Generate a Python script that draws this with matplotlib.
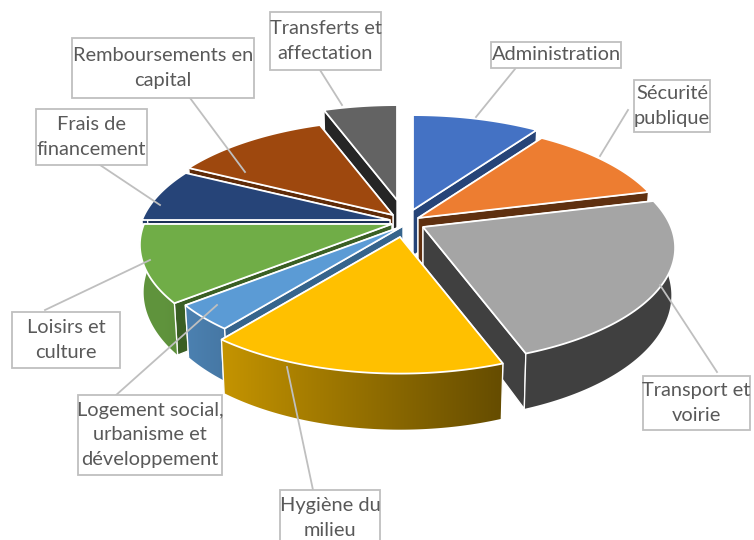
import numpy as np
import matplotlib
matplotlib.use("Agg")
import matplotlib.pyplot as plt
from matplotlib.colors import to_rgb
from matplotlib.patches import Polygon, Rectangle

plt.rcParams["font.family"] = ["Lato", "DejaVu Sans"]

# parts of the budget, clockwise from 12 o'clock (percent)
categories = ["Administration", "Sécurité publique", "Transport et voirie", "Hygiène du milieu",
              "Logement social, urbanisme et développement", "Loisirs et culture",
              "Frais de financement", "Remboursements en capital", "Transferts et affectation"]
values = [9.7, 11.4, 23.3, 16.2, 3.6, 10.8, 7.5, 11.9, 5.6]
colors = ["#4472C4", "#ED7D31", "#A5A5A5", "#FFC000", "#5B9BD5", "#70AD47", "#264478", "#9E480E", "#636363"]
cut_colors = ["#264478", "#5F3010", "#404040", "#805F00", "#36648C", "#3A5F24", "#1A2F55", "#5F2B08", "#252525"]

labels = ["Administration", "Sécurité\npublique", "Transport et\nvoirie", "Hygiène du\nmilieu",
          "Logement social,\nurbanisme et\ndéveloppement", "Loisirs et\nculture",
          "Frais de\nfinancement", "Remboursements en\ncapital", "Transferts et\naffectation"]
# x0, y0, x1, y1 of each label box, in pixels
boxes = [(491, 42, 621, 68), (634, 80, 710, 132), (643, 376, 750, 430), (280, 490, 380, 546),
         (78, 395, 222, 475), (12, 312, 120, 368), (36, 109, 147, 165), (72, 38, 254, 98), (270, 12, 381, 70)]
leaders = [((515, 69), (476, 117)), ((628, 110), (600, 156)), ((717, 372), (660, 285)), ((313, 490), (287, 367)),
           ((115, 396), (217, 305)), ((45, 310), (150, 260)), ((100, 165), (160, 205)), ((190, 98), (245, 172)),
           ((320, 70), (342, 105))]

# where each exploded slice has its point, in pixels
apex_x = [413, 418, 423, 400, 403, 392, 390, 393, 397]
apex_y = [210, 218, 227, 237, 226, 224, 220, 215, 200]

A, B = 248, 112
P = 0.18
DEPTH = 46
ORDER = [8, 0, 7, 1, 6, 5, 2, 4, 3]


def project(t, r, i, z):
    # r=1 on the rim, z=1 on the underside
    x, y = r * np.sin(t), -r * np.cos(t)
    s = 1 / (1 - P * y)
    sx = apex_x[i] + A * x * s * (1 - 0.015 * z)
    sy = apex_y[i] + B * y * s + DEPTH * z * s
    return sx, sy


def rim_shade(t):
    return np.clip(0.53 - 0.39 * np.sin(t), 0.39, 0.85)


fig = plt.figure(figsize=(7.54, 5.4), dpi=100)
ax = fig.add_axes([0, 0, 1, 1])
ax.axis("off")

edges = np.cumsum([0] + values) / sum(values) * 2 * np.pi
lo, hi = np.radians(85), np.radians(275)

for n, i in enumerate(ORDER):
    z = 2 + n
    t0, t1 = edges[i], edges[i + 1]
    ts = np.linspace(t0, t1, 80)
    faces = []
    for t in (t0, t1):
        faces.append([project(t, 0, i, 0), project(t, 1, i, 0), project(t, 1, i, 1), project(t, 0, i, 1)])
    faces.sort(key=lambda q: np.mean([p[1] for p in q]))
    for quad in faces:
        ax.add_patch(Polygon(quad, closed=True, facecolor=cut_colors[i], edgecolor="white", lw=1.0, zorder=z))

    # outer wall, only the part that faces the viewer, shaded left to right
    a, b = max(t0, lo), min(t1, hi)
    if a < b:
        tr = np.linspace(a, b, 80)
        wall = [project(t, 1, i, 0) for t in tr] + [project(t, 1, i, 1) for t in tr[::-1]]
        patch = Polygon(wall, closed=True, facecolor="none", edgecolor="none", zorder=z)
        ax.add_patch(patch)
        px = np.array([project(t, 1, i, 0)[0] for t in tr])
        fs = rim_shade(tr)
        if px[0] > px[-1]:
            px, fs = px[::-1], fs[::-1]
        x0, x1 = px[0] - 8, px[-1] + 8
        grid = np.linspace(x0, x1, 200)
        row = np.interp(grid, px, fs)[None, :, None] * np.array(to_rgb(colors[i]))[None, None, :]
        wy = [p[1] for p in wall]
        im = ax.imshow(np.clip(row, 0, 1), extent=(x0, x1, max(wy) + 2, min(wy) - 2), aspect="auto",
                       zorder=z, interpolation="bilinear")
        im.set_clip_path(patch)
        ax.plot([wall[0][0], wall[-1][0]], [wall[0][1], wall[-1][1]], color="white", lw=0.9, zorder=z)
        ax.plot([wall[79][0], wall[80][0]], [wall[79][1], wall[80][1]], color="white", lw=0.9, zorder=z)

    top = [project(0, 0, i, 0)] + [project(t, 1, i, 0) for t in ts]
    ax.add_patch(Polygon(top, closed=True, facecolor=colors[i], edgecolor="white", lw=1.3, zorder=z))

for (p0, p1) in leaders:
    ax.plot([p0[0], p1[0]], [p0[1], p1[1]], color="#BFBFBF", lw=1.3, zorder=30)

for label, (x0, y0, x1, y1) in zip(labels, boxes):
    ax.add_patch(Rectangle((x0, y0), x1 - x0, y1 - y0, facecolor="white", edgecolor="#BFBFBF", lw=1.3, zorder=31))
    ax.text((x0 + x1) / 2, (y0 + y1) / 2, label, ha="center", va="center", fontsize=14.4, color="#595959",
            linespacing=1.55, zorder=32)

ax.set_xlim(0, 754)
ax.set_ylim(540, 0)
fig.savefig("out.png", dpi=100)
